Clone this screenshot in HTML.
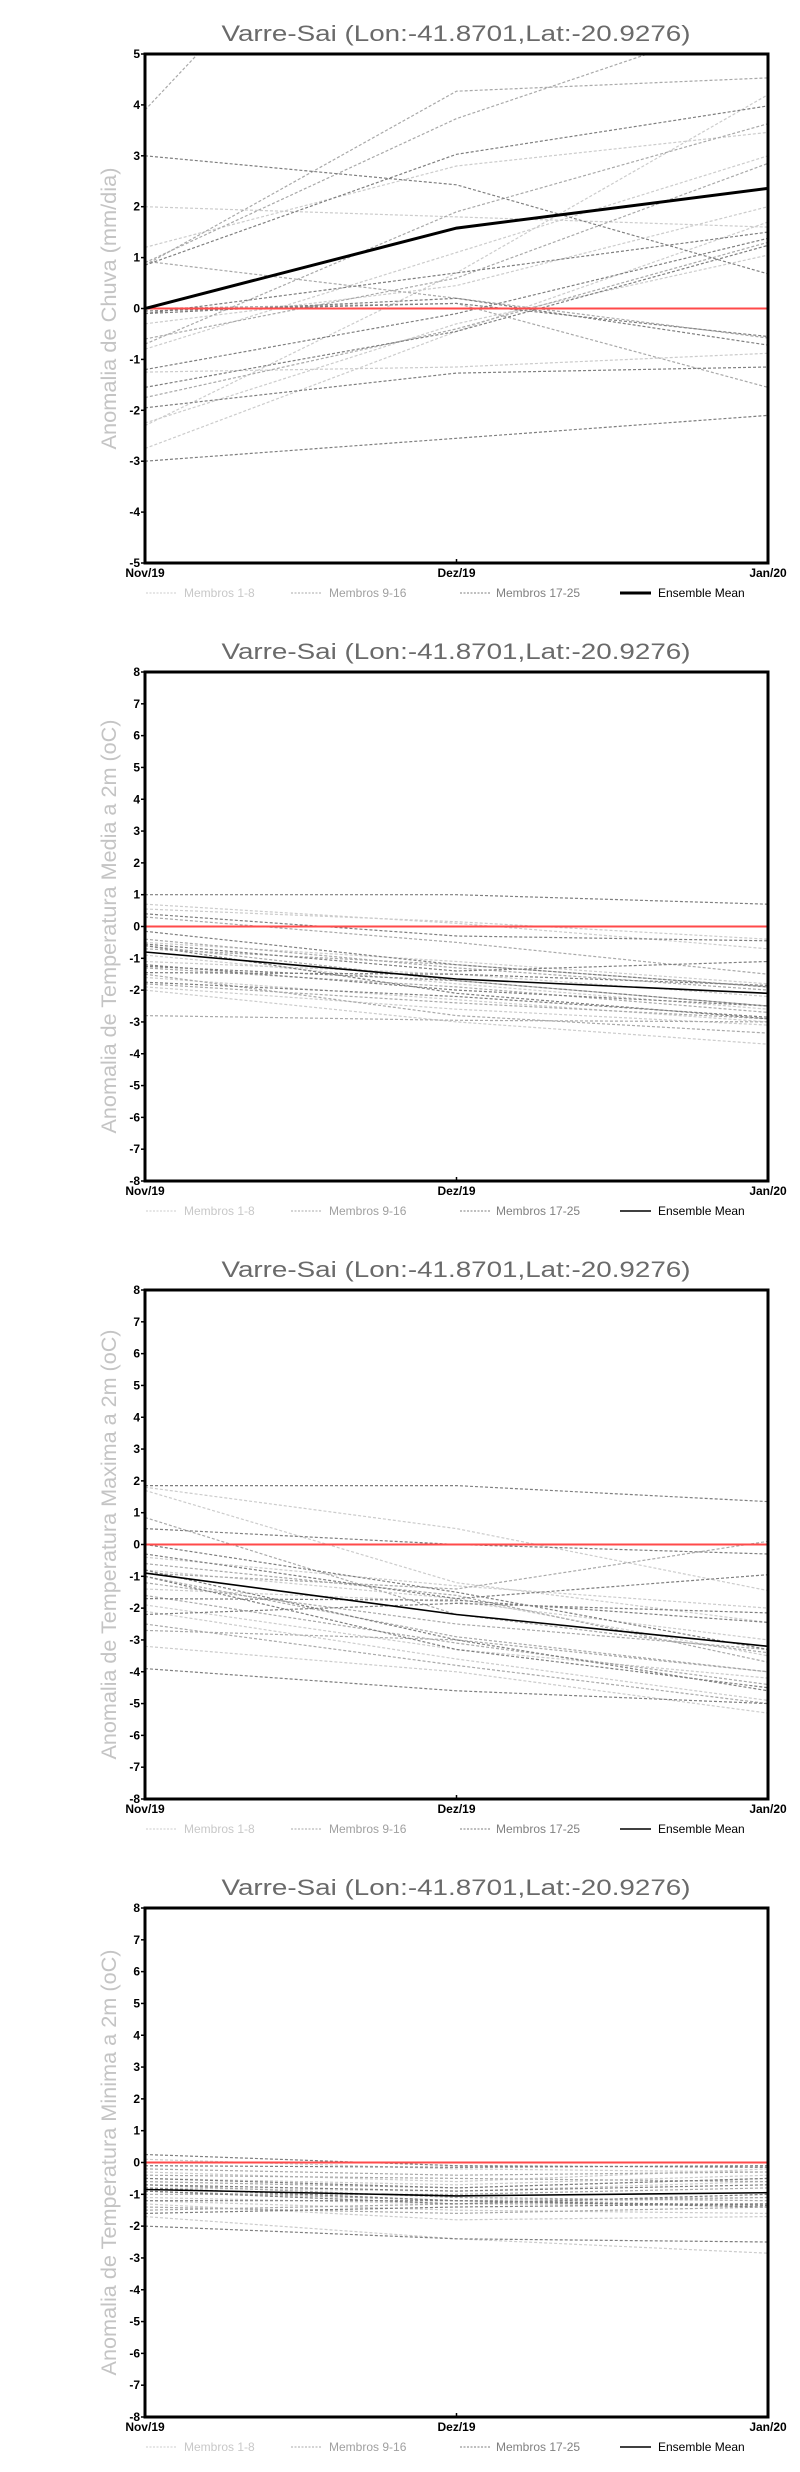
<!DOCTYPE html>
<html><head><meta charset="utf-8">
<style>
html,body{margin:0;padding:0;background:#fff;}
svg{display:block;}
text{font-family:"Liberation Sans",sans-serif;}
.tick{font-family:"Liberation Sans Narrow","Liberation Sans",sans-serif;font-weight:bold;font-size:12px;fill:#000;}
</style></head>
<body>
<svg id="root" width="800" height="2472" viewBox="0 0 800 2472" xmlns="http://www.w3.org/2000/svg"></svg>
<script>
const categories = ["Nov/19","Dez/19","Jan/20"];

const c1Light = [[2.0,1.8,1.6],[1.2,2.8,3.46],[-2.3,0.7,4.2],[-0.8,1.1,3.0],[-1.25,-1.15,-0.88],[-2.25,-0.3,1.05],[-2.75,-0.45,1.7],[-0.3,0.45,2.0]];
const c1Mid = [[3.9,10.4,12],[0.85,4.27,4.53],[0.9,3.73,5.8],[0.0,0.1,-1.55],[-1.75,-0.4,1.3],[-0.6,0.6,2.85],[0.93,0.2,-0.58],[-0.7,1.9,3.63]];
const c1Dark = [[0.85,3.03,3.98],[3.0,2.43,0.68],[-0.1,0.7,1.5],[-1.2,-0.1,1.38],[-1.55,-0.45,1.24],[-1.95,-1.27,-1.15],[-3.0,-2.55,-2.1],[-0.05,0.1,-0.55],[-0.1,0.2,-0.72]];
const c1Mean = [0.0,1.58,2.36];

const c2Light = [[0.7,0.1,-0.7],[0.55,0.15,-0.4],[-0.5,-1.1,-1.8],[-0.9,-1.8,-2.6],[-1.6,-2.3,-3.0],[-2.0,-3.0,-3.7],[-1.1,-1.5,-2.2],[-1.9,-2.6,-3.1]];
const c2Mid = [[-0.4,-1.3,-2.0],[-0.6,-1.7,-2.5],[-1.3,-1.9,-2.7],[-1.8,-2.4,-2.9],[-0.7,-1.2,-1.9],[-1.5,-2.8,-3.35],[-2.8,-2.95,-3.0],[0.3,-0.5,-1.5]];
const c2Dark = [[1.0,1.0,0.7],[0.4,-0.3,-0.45],[-0.15,-1.2,-1.9],[-0.55,-1.4,-1.1],[-0.6,-2.1,-2.9],[-1.25,-1.7,-2.5],[-1.45,-1.5,-1.85],[-1.75,-2.2,-2.85],[-1.2,-2.0,-2.5]];
const c2Mean = [-0.8,-1.65,-2.1];

const c3Light = [[1.8,0.5,-1.45],[1.7,-1.2,-2.45],[-0.4,-1.3,-2.0],[-1.9,-3.3,-4.2],[-3.2,-4.0,-5.3],[-1.4,-1.8,-3.0],[-0.8,-1.7,-3.5],[-2.1,-3.6,-4.9]];
const c3Mid = [[0.85,-2.2,-3.4],[-0.9,-1.4,0.1],[-2.7,-3.0,-4.0],[-1.0,-2.9,-4.0],[-2.5,-3.8,-5.0],[-1.2,-2.5,-3.3],[-0.6,-1.6,-3.7],[-1.6,-3.1,-4.4]];
const c3Dark = [[1.85,1.85,1.35],[0.5,0.0,-0.3],[-0.3,-1.7,-0.95],[-3.9,-4.6,-5.0],[-2.2,-1.85,-2.15],[-1.7,-1.75,-2.45],[-0.8,-3.0,-4.6],[0.0,-1.5,-3.3],[-1.0,-3.3,-4.5]];
const c3Mean = [-0.9,-2.2,-3.2];

const c4Light = [[0.1,-0.2,-0.3],[-0.5,-0.7,-0.4],[-1.1,-1.3,-1.1],[-1.7,-2.4,-2.85],[-1.3,-1.8,-1.7],[-0.8,-0.9,-0.6],[-1.2,-1.5,-1.6],[-0.3,-0.6,-0.2]];
const c4Mid = [[-0.6,-0.8,-0.5],[-0.9,-1.2,-1.1],[-1.5,-1.3,-1.3],[-0.2,-0.4,-0.3],[-1.0,-1.0,-0.8],[-0.7,-1.1,-1.2],[-1.4,-1.6,-1.4],[-0.4,-0.5,-0.6]];
const c4Dark = [[0.25,-0.1,-0.15],[-0.1,-0.15,-0.1],[-2.0,-2.4,-2.5],[-0.8,-1.2,-1.4],[-1.6,-1.4,-1.3],[-0.5,-0.8,-0.5],[-0.9,-1.3,-1.0],[-1.2,-1.2,-1.35],[-0.7,-0.9,-0.7]];
const c4Mean = [-0.85,-1.05,-0.95];

const yTicks1 = [-5,-4,-3,-2,-1,0,1,2,3,4,5];
const yTicksT = [-8,-7,-6,-5,-4,-3,-2,-1,0,1,2,3,4,5,6,7,8];
const legendLabels = ["Membros 1-8","Membros 9-16","Membros 17-25","Ensemble Mean"];
const chartTitle = "Varre-Sai (Lon:-41.8701,Lat:-20.9276)";

const NS = "http://www.w3.org/2000/svg";
const root = document.getElementById('root');
function mk(tag, attrs, parent){
  const e = document.createElementNS(NS, tag);
  for (const k in attrs) e.setAttribute(k, attrs[k]);
  (parent||root).appendChild(e);
  return e;
}

const L = 145, R = 768, H = 509;
const COLORS = ["#cccccc","#a9a9a9","#7f7f7f"];

function drawChart(idx, top, yLabel, labelLen, ymin, ymax, ticks, groups, mean, meanW){
  const g = mk('g', {});
  
  
  const bottom = top + H;
  const xS = i => L + (R - L) * i / (categories.length - 1);
  const yS = v => bottom - (v - ymin) / (ymax - ymin) * H;
  const clipId = 'clip' + idx;
  const cp = mk('clipPath', {id: clipId}, g);
  mk('rect', {x: L, y: top, width: R-L, height: H}, cp);

  const t = mk('text', {x: 456, y: top - 13, 'text-anchor':'middle', 'font-size':'22', fill:'#6a6a6a', textLength:'469', lengthAdjust:'spacingAndGlyphs'}, g);
  t.textContent = chartTitle;
  
  

  const cy = top + H/2;
  const yl = mk('text', {x: 0, y: 0, transform:`translate(116,${cy}) rotate(-90)`, 'text-anchor':'middle', 'font-size':'21', fill:'#c4c4c4', textLength: labelLen, lengthAdjust:'spacingAndGlyphs'}, g);
  yl.textContent = yLabel;
  
  

  const lines = mk('g', {'clip-path': `url(#${clipId})`}, g);
  groups.forEach((grp, gi) => {
    grp.forEach((m, mi) => {
      const pts = m.map((v,i) => xS(i).toFixed(1) + ',' + yS(v).toFixed(1)).join(' ');
      const pl = mk('polyline', {points: pts, fill:'none', stroke: COLORS[gi], 'stroke-width':'1.2', 'stroke-dasharray':'3,2'}, lines);
      
      
    });
  });
  const zl = mk('line', {x1:L, x2:R, y1:yS(0), y2:yS(0), stroke:'#ff4a4a', 'stroke-width':'2'}, lines);
  
  
  const mp = mk('polyline', {points: mean.map((v,i)=>xS(i).toFixed(1)+','+yS(v).toFixed(1)).join(' '), fill:'none', stroke:'#000', 'stroke-width': meanW}, lines);
  
  

  const fr = mk('rect', {x:L, y:top, width:R-L, height:H, fill:'none', stroke:'#000', 'stroke-width':'3'}, g);
  
  

  ticks.forEach(v => {
    mk('line', {x1:L-4, x2:L, y1:yS(v), y2:yS(v), stroke:'#000', 'stroke-width':'1.5'}, g);
    const tl = mk('text', {x: L-5, y: yS(v)+4, 'text-anchor':'end', class:'tick'}, g);
    tl.textContent = String(v);
    
    
  });
  categories.forEach((c,i) => {
    mk('line', {x1:xS(i), x2:xS(i), y1:bottom, y2:bottom-4, stroke:'#000', 'stroke-width':'1.5'}, g);
    const xl = mk('text', {x: xS(i), y: bottom+14, 'text-anchor':'middle', class:'tick'}, g);
    xl.textContent = c;
    
    
  });

  const ly = bottom + 34;
  const lx = [[146,184],[291,329],[460,496],[620,658]];
  const lcol = ["#cccccc","#a9a9a9","#7f7f7f","#000"];
  const tcol = ["#c8c8c8","#a0a0a0","#808080","#000"];
  legendLabels.forEach((lab,i) => {
    const le = mk('g', {}, g);
    
    
    const a = {x1:lx[i][0], x2:lx[i][0]+31, y1:ly-4, y2:ly-4, stroke:lcol[i], 'stroke-width': i==3 ? meanW : 1};
    if (i<3) a['stroke-dasharray']='2,1.5';
    mk('line', a, le);
    const tx = mk('text', {x: lx[i][1], y: ly, 'font-size':'12', fill:tcol[i]}, le);
    tx.textContent = lab;
  });
}

drawChart(0, 54, "Anomalia de Chuva (mm/dia)", 282, -5, 5, yTicks1, [c1Light,c1Mid,c1Dark], c1Mean, 3);
drawChart(1, 672, "Anomalia de Temperatura Media a 2m (oC)", 414, -8, 8, yTicksT, [c2Light,c2Mid,c2Dark], c2Mean, 1.6);
drawChart(2, 1290, "Anomalia de Temperatura Maxima a 2m (oC)", 430, -8, 8, yTicksT, [c3Light,c3Mid,c3Dark], c3Mean, 1.6);
drawChart(3, 1908, "Anomalia de Temperatura Minima a 2m (oC)", 426, -8, 8, yTicksT, [c4Light,c4Mid,c4Dark], c4Mean, 1.6);
</script>
</body></html>
